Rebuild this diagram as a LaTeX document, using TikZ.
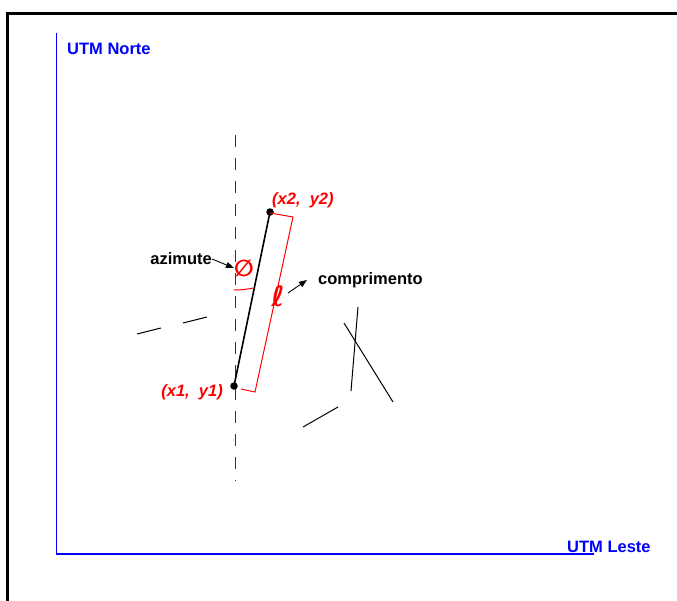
\documentclass[tikz,border=0pt]{standalone}
\usepackage{fontspec}
\setmainfont{Liberation Sans}
\newfontfamily\djv{DejaVu Sans}
\usetikzlibrary{arrows.meta}
\begin{document}
\begin{tikzpicture}[x=1bp,y=-1bp,
  lbl/.style={font=\fontsize{16.5bp}{18bp}\selectfont\bfseries, inner sep=0pt},
  blbl/.style={lbl, text=blue},
  rlbl/.style={lbl, text=red, font=\fontsize{16.5bp}{18bp}\selectfont\bfseries\itshape},
  axis/.style={blue, line width=1.3bp},
  segline/.style={black, line width=1bp},
  pt/.style={circle, fill=black, inner sep=0pt, minimum size=7.5bp},
  arr/.style={-{Triangle[length=8bp,width=6bp]}, line width=0.9bp}
]
\useasboundingbox (0,0) rectangle (677,601);
\fill[white] (0,0) rectangle (677,601);
% frame
\draw[line width=2.2bp] (7.5,602) -- (7.5,13.5) -- (678,13.5);
% axes
\coordinate (ytop) at (56.5,33);
\coordinate (orig) at (56.5,554);
\coordinate (xend) at (594,554);
\draw[axis] (ytop) -- (orig) -- (xend);
\node[blbl, anchor=west] (norte) at (67,49) {UTM Norte};
\node[blbl, anchor=west] (leste) at (567,547) {UTM Leste};
% dashed vertical
\coordinate (d1) at (235,135);
\coordinate (d2) at (235,481);
\draw[line width=1bp, black!80, dash pattern=on 12bp off 11bp] (d1) -- (d2);
% main segment
\node[pt] (p1) at (234,386) {};
\node[pt] (p2) at (270,212) {};
\draw[line width=1.6bp] (p1.center) -- (p2.center);
\node[rlbl, anchor=west] (l2) at (272,200) {(x2,\ \ y2)};
\node[rlbl, anchor=east] (l1) at (223,392) {(x1,\ \ y1)};
% red bracket
\coordinate (b1) at (270,213);
\coordinate (b2) at (293,217);
\coordinate (b3) at (255,392);
\coordinate (b4) at (241,389);
\draw[red, line width=1bp] (b1) -- (b2) -- (b3) -- (b4);
% arc
\draw[red, line width=1bp] (234,290) arc[start angle=90, end angle=78.3, radius=96];
% phi
\node[text=red, inner sep=0pt, font=\djv\fontsize{23bp}{24bp}\selectfont\bfseries] (phi) at (244,268) {∅};
\node[lbl, anchor=east] (az) at (212,259) {azimute};
\draw[arr] (az.east) -- (phi.west);
% length
\node[text=red, inner sep=0pt, font=\djv\fontsize{28bp}{30bp}\selectfont\bfseries] (ell) at (278,296) {ℓ};
\node[lbl, anchor=west] (comp) at (318,280) {comprimento};
\coordinate (ca) at (288,293);
\coordinate (cb) at (307,280);
\draw[arr] (ca) -- (cb);
% other lines
\coordinate (e1) at (137,334); \coordinate (e2) at (161,328);
\coordinate (e3) at (183,323); \coordinate (e4) at (207,317);
\draw[segline] (e1) -- (e2);
\draw[segline] (e3) -- (e4);
\coordinate (f1) at (358,307); \coordinate (f2) at (351,391);
\coordinate (g1) at (344,323); \coordinate (g2) at (393,402);
\coordinate (h1) at (303,427); \coordinate (h2) at (338,407);
\draw[segline] (f1) -- (f2);
\draw[segline] (g1) -- (g2);
\draw[segline] (h1) -- (h2);
\end{tikzpicture}
\end{document}
